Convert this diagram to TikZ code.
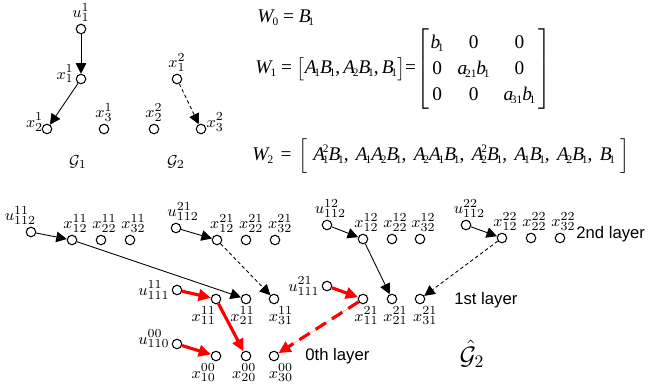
\documentclass[tikz,border=0pt]{standalone}
\usepackage{fontspec}
\usepackage{amsmath}
\usetikzlibrary{positioning}
\usetikzlibrary{arrows.meta}
\newfontfamily\layerfont{Liberation Sans}
\newfontfamily\eqfont{Liberation Serif}
\newcommand{\vi}[1]{\textit{#1}}
\newcommand{\lo}[1]{\kern-0.12em\raisebox{-0.35ex}{\fontsize{6.5}{7}\selectfont #1}}
\newcommand{\lohi}[2]{\kern-0.12em\rlap{\raisebox{0.95ex}{\fontsize{6.5}{7}\selectfont #2}}\raisebox{-0.35ex}{\fontsize{6.5}{7}\selectfont #1}}
\colorlet{pathc}{red}
\colorlet{linec}{black}

\begin{document}
\begin{tikzpicture}[x=0.02cm,y=-0.02cm,
  vtx/.style={draw=linec,shape=circle,fill=white,line width=0.6pt,inner sep=0pt,minimum size=0.19cm},
  lbl/.style={inner sep=1pt,font=\fontsize{9.5}{11}\selectfont},
  edg/.style={draw=linec,line width=0.5pt,-{Triangle[length=6pt,width=6pt]}},
  dedg/.style={edg,dash pattern=on 2pt off 1.5pt},
  redg/.style={draw=pathc,fill=pathc,line width=1.8pt,-{Triangle[length=7pt,width=6.5pt]}},
  rdedg/.style={redg,dash pattern=on 7pt off 4pt},
  eqn/.style={anchor=west,inner sep=0pt,font=\eqfont\fontsize{11}{14.7}\selectfont},
  layer/.style={anchor=west,inner sep=0pt,font=\layerfont\fontsize{9.5}{11}\selectfont}]
\useasboundingbox (0,0) rectangle (650,390);

% graphs G1 and G2
\node[vtx,label={[lbl]above:$u_1^1$}] (u1) at (81,29) {};
\node[vtx,label={[lbl,yshift=3pt]left:$x_1^1$}] (g1x1) at (81,79) {};
\node[vtx,label={[lbl,yshift=4pt,xshift=2pt]left:$x_2^1$}] (g1x2) at (47,129) {};
\node[vtx,label={[lbl]above:$x_3^1$}] (g1x3) at (104,129) {};
\node[vtx,label={[lbl]above:$x_2^2$}] (g2x2) at (154,129) {};
\node[vtx,label={[lbl]above:$x_1^2$}] (g2x1) at (177,79) {};
\node[vtx,label={[lbl,yshift=4pt,xshift=-1pt]right:$x_3^2$}] (g2x3) at (201,129) {};
\node[lbl] (g1name) at (78,162) {$\mathcal{G}_1$};
\node[lbl] (g2name) at (176,162) {$\mathcal{G}_2$};
\draw[edg] (u1) -- (g1x1);
\draw[edg] (g1x1) -- (g1x2);
\draw[dedg] (g2x1) -- (g2x3);

% controllability matrices
\node[eqn] (w0) at (257,18) {\vi{W}\lo{0} = \vi{B}\lo{1}};
\node[eqn] (w1) at (255,69) {\vi{W}\lo{1} = $\bigl[$\vi{A}\lo{1}\vi{B}\lo{1},\,\vi{A}\lo{2}\vi{B}\lo{1},\,\vi{B}\lo{1}$\bigr]$=%
  \setlength{\tabcolsep}{4pt}\renewcommand{\arraystretch}{1.0}$\left[\begin{tabular}{@{\hspace{1pt}}ccc@{\hspace{2pt}}}
  \vi{b}\lo{1} & 0 & 0\\ 0 & \vi{a}\lo{21}\vi{b}\lo{1} & 0\\ 0 & 0 & \vi{a}\lo{31}\vi{b}\lo{1}\end{tabular}\right]$};
\node[eqn] (w2) at (252,156) {\spaceskip=4.2pt plus 1pt\relax
  \vi{W}\lo{2} = $\Bigl[$\hspace{3pt}\vi{A}\lohi{1}{2}\vi{B}\lo{1}, \vi{A}\lo{1}\vi{A}\lo{2}\vi{B}\lo{1}, \vi{A}\lo{2}\vi{A}\lo{1}\vi{B}\lo{1}, \vi{A}\lohi{2}{2}\vi{B}\lo{1}, \vi{A}\lo{1}\vi{B}\lo{1}, \vi{A}\lo{2}\vi{B}\lo{1}, \vi{B}\lo{1}\hspace{3pt}$\Bigr]$};

% 2nd layer
\node[vtx,label={[lbl,xshift=-6pt]above:$u_{112}^{11}$}] (u112a) at (31,232) {};
\node[vtx,label={[lbl,xshift=2pt]above:$x_{12}^{11}$}] (x12a) at (72,240) {};
\node[vtx,label={[lbl,xshift=2pt]above:$x_{22}^{11}$}] (x22a) at (101,240) {};
\node[vtx,label={[lbl,xshift=2pt]above:$x_{32}^{11}$}] (x32a) at (130,240) {};
\node[vtx,label={[lbl,xshift=4pt]above:$u_{112}^{21}$}] (u112b) at (176,228) {};
\node[vtx,label={[lbl,xshift=3pt]above:$x_{12}^{21}$}] (x12b) at (217,240) {};
\node[vtx,label={[lbl,xshift=3pt]above:$x_{22}^{21}$}] (x22b) at (246,240) {};
\node[vtx,label={[lbl,xshift=3pt]above:$x_{32}^{21}$}] (x32b) at (275,240) {};
\node[vtx,label={[lbl,xshift=2pt]above:$u_{112}^{12}$}] (u112c) at (327,225) {};
\node[vtx,label={[lbl,xshift=2pt]above:$x_{12}^{12}$}] (x12c) at (363,239) {};
\node[vtx,label={[lbl,xshift=2pt]above:$x_{22}^{12}$}] (x22c) at (392,239) {};
\node[vtx,label={[lbl,xshift=2pt]above:$x_{32}^{12}$}] (x32c) at (420,239) {};
\node[vtx,label={[lbl,xshift=2pt]above:$u_{112}^{22}$}] (u112d) at (466,225) {};
\node[vtx,label={[lbl,xshift=2pt]above:$x_{12}^{22}$}] (x12d) at (502,238) {};
\node[vtx,label={[lbl,xshift=2pt]above:$x_{22}^{22}$}] (x22d) at (531,238) {};
\node[vtx,label={[lbl,xshift=2pt]above:$x_{32}^{22}$}] (x32d) at (560,238) {};
\node[layer] (lay2) at (576,234) {2nd layer};

% 1st layer
\node[vtx,label={[lbl]left:$u_{111}^{11}$}] (u111a) at (177,290) {};
\node[vtx,label={[lbl,xshift=-7pt]below:$x_{11}^{11}$}] (x11a) at (216,299) {};
\node[vtx,label={[lbl,xshift=-2pt]below:$x_{21}^{11}$}] (x21a) at (246,299) {};
\node[vtx,label={[lbl,xshift=4pt]below:$x_{31}^{11}$}] (x31a) at (274,299) {};
\node[vtx,label={[lbl]left:$u_{111}^{21}$}] (u111b) at (327,286) {};
\node[vtx,label={[lbl,xshift=2pt]below:$x_{11}^{21}$}] (x11b) at (363,299) {};
\node[vtx,label={[lbl,xshift=2pt]below:$x_{21}^{21}$}] (x21b) at (392,299) {};
\node[vtx,label={[lbl,xshift=3pt]below:$x_{31}^{21}$}] (x31b) at (420,299) {};
\node[layer] (lay1) at (454,300) {1st layer};

% 0th layer
\node[vtx,label={[lbl,yshift=3pt]left:$u_{110}^{00}$}] (u110) at (177,344) {};
\node[vtx,label={[lbl,xshift=-7pt]below:$x_{10}^{00}$}] (x10) at (216,356) {};
\node[vtx,label={[lbl,xshift=-1pt]below:$x_{20}^{00}$}] (x20) at (246,356) {};
\node[vtx,label={[lbl,xshift=4pt]below:$x_{30}^{00}$}] (x30) at (274,356) {};
\node[layer] (lay0) at (305,356) {0th layer};
\node[font=\fontsize{14}{16}\selectfont] (g2hat) at (472,354) {$\hat{\mathcal{G}}_2$};

% edges of the lifted graph
\draw[edg] (u112a) -- (x12a);
\draw[edg] (x12a) -- (x21a);
\draw[edg] (u112b) -- (x12b);
\draw[dedg] (x12b) -- (x31a);
\draw[edg] (u112c) -- (x12c);
\draw[edg] (x12c) -- (x21b);
\draw[edg] (u112d) -- (x12d);
\draw[dedg] (x12d) -- (x31b);
\draw[redg] (u111a) -- (x11a);
\draw[redg] (x11a) -- (x20);
\draw[redg] (u110) -- (x10);
\draw[redg] (u111b) -- (x11b);
\draw[rdedg] (x11b) -- (x30);

\end{tikzpicture}
\end{document}
